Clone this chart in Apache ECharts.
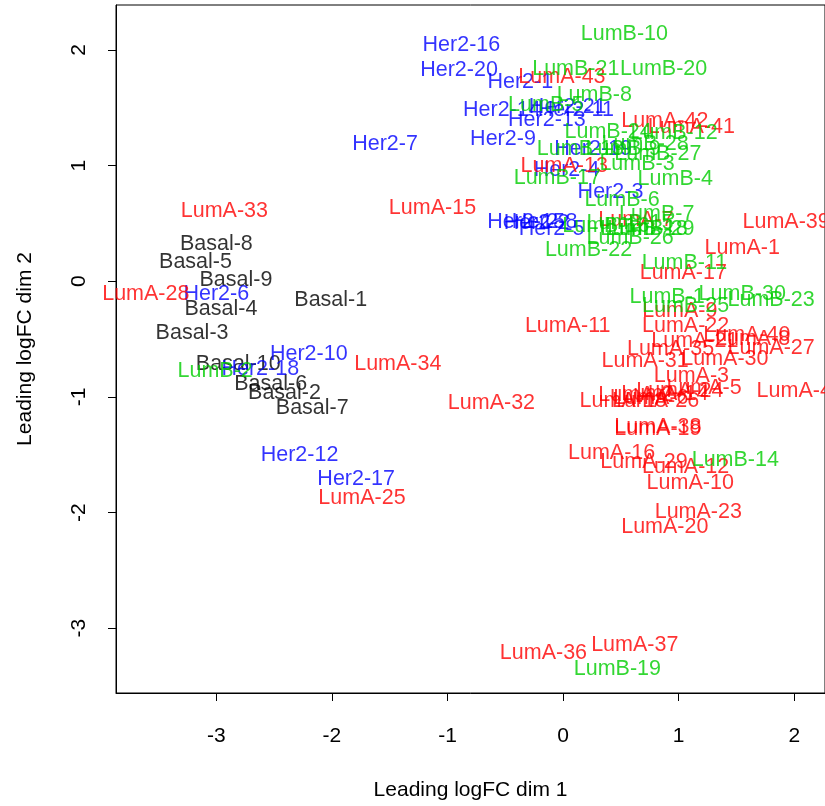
<!DOCTYPE html>
<html>
<head>
<meta charset="utf-8">
<script src="https://cdn.jsdelivr.net/npm/echarts@6/dist/echarts.min.js"></script>
<style>html,body{margin:0;padding:0;background:#fff}#c{width:825px;height:806px}</style>
</head>
<body>
<div id="c"></div>
<script>
// ---- data ----
const xTicks = [-3, -2, -1, 0, 1, 2];
const yTicks = [-3, -2, -1, 0, 1, 2];

const basalNames = ["Basal-1","Basal-2","Basal-3","Basal-4","Basal-5","Basal-6","Basal-7","Basal-8","Basal-9","Basal-10"];
const basalX = [-2.01,-2.41,-3.21,-2.96,-3.18,-2.53,-2.17,-3.00,-2.83,-2.81];
const basalY = [-0.15,-0.95,-0.43,-0.22,0.18,-0.87,-1.08,0.34,0.03,-0.70];

const her2Names = ["Her2-1","Her2-2","Her2-3","Her2-4","Her2-5","Her2-6","Her2-7","Her2-8","Her2-9","Her2-10","Her2-11","Her2-12","Her2-13","Her2-14","Her2-15","Her2-16","Her2-17","Her2-18","Her2-19","Her2-20","Her2-21"];
const her2X = [-0.37,-0.23,0.41,0.03,-0.10,-3.00,-1.54,-0.16,-0.52,-2.20,0.11,-2.28,-0.14,-0.53,-0.32,-0.88,-1.79,-2.62,0.26,-0.90,0.04];
const her2Y = [1.74,0.52,0.79,0.98,0.47,-0.09,1.20,0.53,1.25,-0.61,1.50,-1.49,1.41,1.50,0.53,2.06,-1.69,-0.74,1.16,1.84,1.52];

const lumANames = ["LumA-1","LumA-2","LumA-3","LumA-4","LumA-5","LumA-6","LumA-7","LumA-8","LumA-9","LumA-10","LumA-11","LumA-12","LumA-13","LumA-14","LumA-15","LumA-16","LumA-17","LumA-18","LumA-19","LumA-20","LumA-21","LumA-22","LumA-23","LumA-24","LumA-25","LumA-26","LumA-27","LumA-28","LumA-29","LumA-30","LumA-31","LumA-32","LumA-33","LumA-34","LumA-35","LumA-36","LumA-37","LumA-38","LumA-39","LumA-40","LumA-41","LumA-42","LumA-43"];
const lumAX = [1.55,0.63,1.11,2.00,1.22,0.76,0.63,1.64,1.01,1.10,0.04,1.06,0.01,0.88,-1.13,0.42,1.04,0.52,0.82,0.88,1.14,1.06,1.17,1.01,-1.74,0.80,1.80,-3.61,0.70,1.40,0.71,-0.62,-2.93,-1.43,0.93,-0.17,0.62,0.82,1.93,1.59,1.11,0.88,-0.01];
const lumAY = [0.30,-0.97,-0.80,-0.93,-0.91,-0.99,0.55,-0.48,-0.24,-1.73,-0.37,-1.59,1.01,-0.96,0.65,-1.47,0.09,-1.02,-1.26,-2.11,-0.50,-0.37,-1.98,-0.93,-1.86,-1.02,-0.56,-0.09,-1.55,-0.66,-0.67,-1.04,0.62,-0.70,-0.57,-3.20,-3.13,-1.24,0.53,-0.45,1.35,1.40,1.78];

const lumBNames = ["LumB-1","LumB-2","LumB-3","LumB-4","LumB-5","LumB-6","LumB-7","LumB-8","LumB-9","LumB-10","LumB-11","LumB-12","LumB-13","LumB-14","LumB-15","LumB-16","LumB-17","LumB-18","LumB-19","LumB-20","LumB-21","LumB-22","LumB-23","LumB-24","LumB-25","LumB-26","LumB-27","LumB-28","LumB-29","LumB-30"];
const lumBX = [0.90,-3.01,0.64,0.97,-0.15,0.51,0.81,0.27,0.52,0.53,1.05,0.96,0.15,1.49,0.58,0.37,-0.05,0.70,0.47,0.87,0.11,0.22,1.80,0.39,1.06,0.58,0.82,0.71,0.76,1.55];
const lumBY = [-0.12,-0.76,1.03,0.90,1.54,0.72,0.60,1.63,1.16,2.15,0.17,1.30,1.16,-1.53,0.52,0.49,0.91,0.47,-3.34,1.85,1.85,0.29,-0.15,1.31,-0.20,0.39,1.12,1.20,0.47,-0.09];

const FONT = "'Liberation Sans', Arial, sans-serif";

function mk(names, xs, ys, color) {
  return {
    type: 'scatter',
    symbolSize: 0,
    silent: true,
    data: names.map((n, i) => ({ name: n, value: [xs[i], ys[i]] })),
    label: {
      show: true, position: 'inside', formatter: '{b}', offset: [0, 2],
      color: color, fontSize: 21.5, fontFamily: FONT
    }
  };
}

const chart = echarts.init(document.getElementById('c'), null, { renderer: 'canvas' });
chart.setOption({
  animation: false,
  backgroundColor: '#ffffff',
  grid: { left: 116, top: 5, right: -5, bottom: 111, show: true, borderColor: '#000', borderWidth: 1, backgroundColor: 'transparent' },
  xAxis: {
    type: 'value', min: -3.868, max: 2.266,
    name: 'Leading logFC dim 1', nameLocation: 'middle', nameGap: 87,
    nameTextStyle: { color: '#000', fontSize: 21, fontFamily: FONT },
    splitLine: { show: false },
    axisLine: { show: true, onZero: false, lineStyle: { color: '#000', width: 1 } },
    axisTick: { show: true, inside: false, length: 8, lineStyle: { color: '#000' }, customValues: xTicks },
    axisLabel: { color: '#000', fontSize: 21, fontFamily: FONT, margin: 33, customValues: xTicks }
  },
  yAxis: {
    type: 'value', min: -3.56, max: 2.388,
    name: 'Leading logFC dim 2', nameLocation: 'middle', nameGap: 80, nameRotate: 90,
    nameTextStyle: { color: '#000', fontSize: 21, fontFamily: FONT },
    splitLine: { show: false },
    axisLine: { show: true, onZero: false, lineStyle: { color: '#000', width: 1 } },
    axisTick: { show: true, inside: false, length: 8, lineStyle: { color: '#000' }, customValues: yTicks },
    axisLabel: { color: '#000', fontSize: 21, fontFamily: FONT, margin: 26, rotate: 90, customValues: yTicks }
  },
  series: [
    mk(basalNames, basalX, basalY, '#000000'),
    mk(her2Names, her2X, her2Y, '#0000FF'),
    mk(lumANames, lumAX, lumAY, '#FF0000'),
    mk(lumBNames, lumBX, lumBY, '#00CD00')
  ]
});
</script>
</body>
</html>
